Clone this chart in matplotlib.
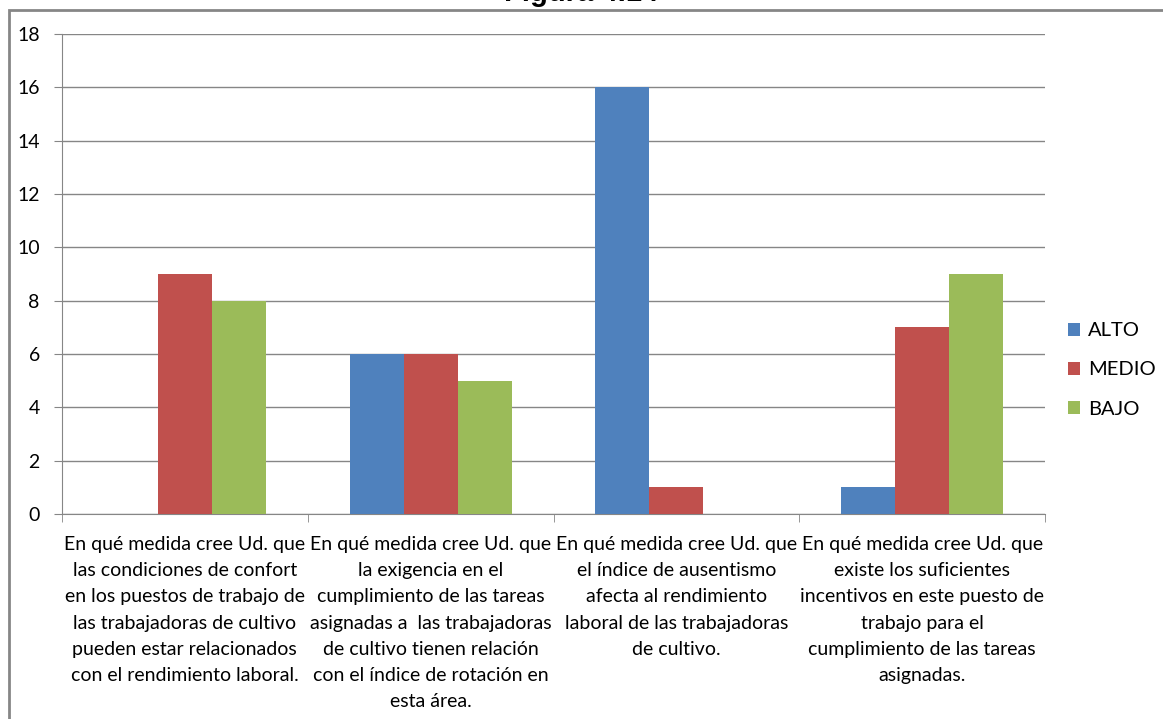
import matplotlib
matplotlib.use("Agg")
import matplotlib.pyplot as plt
import numpy as np
from matplotlib.patches import Rectangle

categories = [
    "En qué medida cree Ud. que\nlas condiciones de confort\nen los puestos de trabajo de\nlas trabajadoras de cultivo\npueden estar relacionados\ncon el rendimiento laboral.",
    "En qué medida cree Ud. que\nla exigencia en el\ncumplimiento de las tareas\nasignadas a  las trabajadoras\nde cultivo tienen relación\ncon el índice de rotación en\nesta área.",
    "En qué medida cree Ud. que\nel índice de ausentismo\nafecta al rendimiento\nlaboral de las trabajadoras\nde cultivo.",
    "En qué medida cree Ud. que\nexiste los suficientes\nincentivos en este puesto de\ntrabajo para el\ncumplimiento de las tareas\nasignadas.",
]
series_names = ["ALTO", "MEDIO", "BAJO"]
alto = [0, 6, 16, 1]
medio = [9, 6, 1, 7]
bajo = [8, 5, 0, 9]
colors = ["#4F81BD", "#C0504D", "#9BBB59"]
yticks = [0, 2, 4, 6, 8, 10, 12, 14, 16, 18]

plt.rcParams['font.family'] = ['Lato', 'DejaVu Sans']

fig = plt.figure(figsize=(11.63, 7.19), dpi=100)
W, H = 1163, 719
ax = fig.add_axes([62 / W, 1 - 514 / H, (1045 - 62) / W, (514 - 34) / H])

# outer border
fig.patches.append(Rectangle((9 / W, -0.01), 1.1, 1 - 10 / H + 0.01, transform=fig.transFigure,
                             fill=False, edgecolor="#868686", linewidth=2, zorder=0))
fig.text(0.5, 1 - 1 / H, "Figura 4.14", ha="center", va="baseline", fontsize=21,
         fontweight="bold", family="Liberation Sans")

x = np.arange(len(categories))
bw = 0.22
for i, (vals, name) in enumerate(zip([alto, medio, bajo], series_names)):
    ax.bar(x + (i - 1) * bw, vals, width=bw, color=colors[i], label=name, zorder=3)

ax.set_xlim(-0.5, len(categories) - 0.5)
ax.set_ylim(0, 18)
ax.set_yticks(yticks)
ax.yaxis.grid(True, color="#868686", linewidth=1, zorder=0)
ax.set_axisbelow(True)
for s in ["top", "right"]:
    ax.spines[s].set_visible(False)
for s in ["left", "bottom"]:
    ax.spines[s].set_color("#868686")
ax.tick_params(axis="y", length=6, color="#868686", labelsize=14, pad=10)
ax.set_xticks(x)
ax.set_xticklabels(categories, fontsize=14, linespacing=1.65)
ax.tick_params(axis="x", length=0, pad=16)
ax.set_xticks(np.arange(-0.5, len(categories)), minor=True)
ax.tick_params(axis="x", which="minor", length=6, color="#868686")

ax.legend(loc="center left", bbox_to_anchor=(1.005, 0.30), frameon=False, fontsize=14.5,
          handlelength=0.6, handleheight=0.6, handletextpad=0.4, labelspacing=1.1)

fig.savefig("out.png", dpi=100)
